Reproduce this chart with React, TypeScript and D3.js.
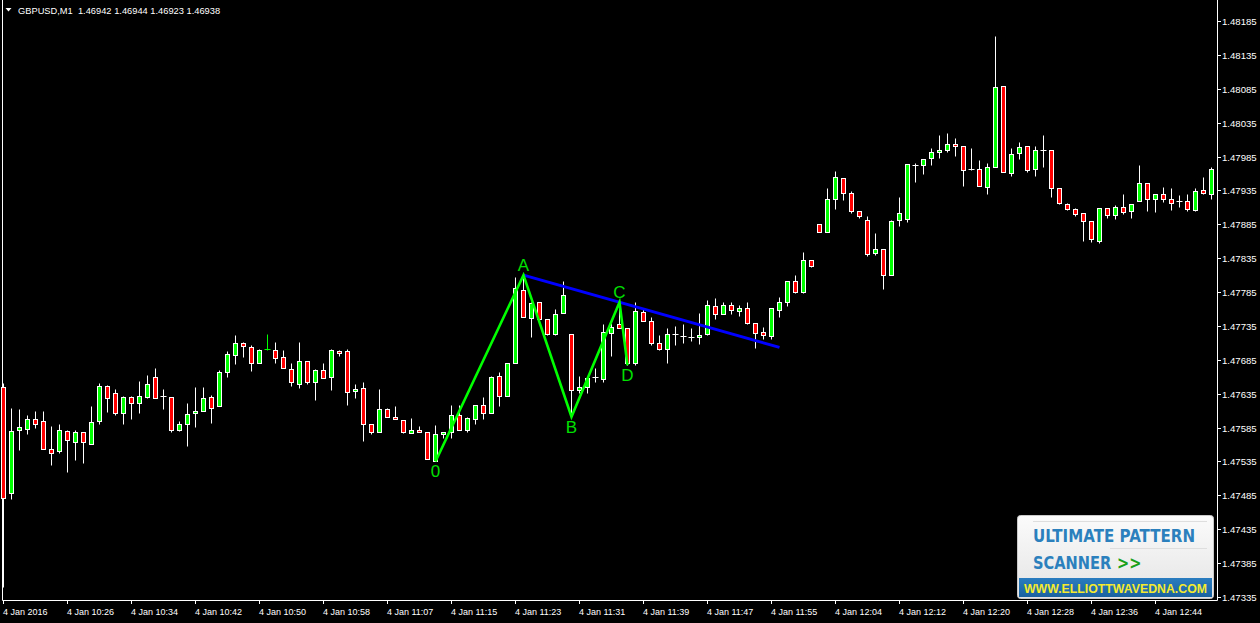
import React from 'react';
import * as d3 from 'd3';

// OHLC per one-minute bar
const opens = [
  1.47645, 1.47489, 1.47582, 1.47583, 1.47597, 1.47594, 1.47553, 1.47550, 1.47580, 1.47564,
  1.47578, 1.47561, 1.47594, 1.47647, 1.47636, 1.47606, 1.47630, 1.47622, 1.47630, 1.47659,
  1.47631, 1.47630, 1.47581, 1.47591, 1.47606, 1.47609, 1.47630, 1.47617, 1.47667, 1.47692,
  1.47710, 1.47704, 1.47681, 1.47701, 1.47699, 1.47689, 1.47671, 1.47650, 1.47683, 1.47652,
  1.47670, 1.47659, 1.47698, 1.47698, 1.47639, 1.47643, 1.47590, 1.47578, 1.47612, 1.47600,
  1.47596, 1.47577, 1.47581, 1.47578, 1.47535, 1.47575, 1.47578, 1.47603, 1.47581, 1.47597,
  1.47618, 1.47606, 1.47661, 1.47631, 1.47681, 1.47788, 1.47746, 1.47770, 1.47745, 1.47723,
  1.47754, 1.47723, 1.47640, 1.47645, 1.47659, 1.47656, 1.47724, 1.47738, 1.47732, 1.47681,
  1.47755, 1.47743, 1.47710, 1.47701, 1.47723, 1.47720, 1.47719, 1.47719, 1.47723, 1.47764,
  1.47752, 1.47766, 1.47757, 1.47761, 1.47740, 1.47726, 1.47720, 1.47758, 1.47770, 1.47801,
  1.47785, 1.47832, 1.47885, 1.47874, 1.47923, 1.47953, 1.47931, 1.47904, 1.47891, 1.47842,
  1.47848, 1.47810, 1.47891, 1.47893, 1.47973, 1.47972, 1.47983, 1.47991, 1.47994, 1.48004,
  1.48000, 1.47967, 1.47966, 1.47940, 1.47969, 1.48089, 1.47960, 1.47990, 1.48000, 1.47966,
  1.47994, 1.47994, 1.47938, 1.47915, 1.47907, 1.47901, 1.47890, 1.47860, 1.47909, 1.47898,
  1.47910, 1.47904, 1.47919, 1.47946, 1.47923, 1.47929, 1.47922, 1.47919, 1.47920, 1.47906,
  1.47936, 1.47929,
];
const highs = [
  1.47651, 1.47614, 1.47613, 1.47603, 1.47609, 1.47609, 1.47587, 1.47591, 1.47582, 1.47582,
  1.47579, 1.47617, 1.47651, 1.47648, 1.47642, 1.47631, 1.47631, 1.47654, 1.47662, 1.47673,
  1.47642, 1.47630, 1.47594, 1.47622, 1.47645, 1.47645, 1.47633, 1.47670, 1.47698, 1.47722,
  1.47712, 1.47707, 1.47701, 1.47723, 1.47712, 1.47699, 1.47681, 1.47712, 1.47684, 1.47671,
  1.47681, 1.47701, 1.47699, 1.47701, 1.47649, 1.47652, 1.47590, 1.47642, 1.47614, 1.47617,
  1.47596, 1.47599, 1.47587, 1.47578, 1.47589, 1.47578, 1.47619, 1.47619, 1.47600, 1.47619,
  1.47630, 1.47661, 1.47667, 1.47681, 1.47807, 1.47810, 1.47770, 1.47770, 1.47745, 1.47760,
  1.47801, 1.47723, 1.47661, 1.47658, 1.47673, 1.47738, 1.47739, 1.47770, 1.47732, 1.47770,
  1.47760, 1.47748, 1.47721, 1.47732, 1.47735, 1.47738, 1.47732, 1.47754, 1.47773, 1.47776,
  1.47770, 1.47770, 1.47766, 1.47770, 1.47740, 1.47733, 1.47761, 1.47777, 1.47801, 1.47810,
  1.47844, 1.47832, 1.47885, 1.47938, 1.47963, 1.47953, 1.47934, 1.47904, 1.47897, 1.47872,
  1.47848, 1.47891, 1.47926, 1.47974, 1.47975, 1.47982, 1.47997, 1.48017, 1.48019, 1.48013,
  1.48000, 1.47997, 1.47980, 1.47975, 1.48163, 1.48089, 1.47997, 1.48006, 1.48000, 1.48001,
  1.48017, 1.47994, 1.47939, 1.47916, 1.47909, 1.47901, 1.47890, 1.47909, 1.47909, 1.47913,
  1.47929, 1.47915, 1.47972, 1.47946, 1.47929, 1.47940, 1.47938, 1.47928, 1.47929, 1.47938,
  1.47955, 1.47969,
];
const lows = [
  1.47350, 1.47480, 1.47552, 1.47576, 1.47585, 1.47553, 1.47530, 1.47548, 1.47520, 1.47537,
  1.47533, 1.47561, 1.47591, 1.47608, 1.47603, 1.47591, 1.47597, 1.47607, 1.47628, 1.47628,
  1.47612, 1.47578, 1.47580, 1.47558, 1.47586, 1.47609, 1.47592, 1.47617, 1.47660, 1.47679,
  1.47689, 1.47669, 1.47681, 1.47700, 1.47680, 1.47673, 1.47647, 1.47644, 1.47649, 1.47625,
  1.47658, 1.47640, 1.47690, 1.47619, 1.47628, 1.47565, 1.47575, 1.47578, 1.47600, 1.47597,
  1.47577, 1.47577, 1.47578, 1.47538, 1.47535, 1.47569, 1.47569, 1.47581, 1.47578, 1.47590,
  1.47597, 1.47606, 1.47617, 1.47631, 1.47681, 1.47748, 1.47719, 1.47745, 1.47721, 1.47721,
  1.47754, 1.47601, 1.47636, 1.47636, 1.47652, 1.47652, 1.47690, 1.47732, 1.47677, 1.47677,
  1.47742, 1.47707, 1.47699, 1.47681, 1.47707, 1.47710, 1.47713, 1.47708, 1.47721, 1.47745,
  1.47752, 1.47752, 1.47749, 1.47738, 1.47702, 1.47715, 1.47715, 1.47748, 1.47764, 1.47783,
  1.47783, 1.47822, 1.47873, 1.47874, 1.47908, 1.47921, 1.47901, 1.47895, 1.47838, 1.47839,
  1.47789, 1.47810, 1.47882, 1.47888, 1.47948, 1.47959, 1.47972, 1.47983, 1.47991, 1.47986,
  1.47941, 1.47965, 1.47941, 1.47929, 1.47969, 1.47962, 1.47957, 1.47982, 1.47962, 1.47957,
  1.47969, 1.47926, 1.47915, 1.47906, 1.47897, 1.47860, 1.47859, 1.47857, 1.47894, 1.47893,
  1.47900, 1.47895, 1.47919, 1.47904, 1.47903, 1.47918, 1.47906, 1.47910, 1.47904, 1.47904,
  1.47930, 1.47922,
];
const closes = [
  1.47481, 1.47580, 1.47586, 1.47597, 1.47591, 1.47553, 1.47547, 1.47581, 1.47566, 1.47578,
  1.47563, 1.47593, 1.47647, 1.47628, 1.47606, 1.47630, 1.47622, 1.47631, 1.47650, 1.47628,
  1.47631, 1.47581, 1.47591, 1.47605, 1.47609, 1.47628, 1.47614, 1.47667, 1.47693, 1.47710,
  1.47705, 1.47680, 1.47699, 1.47701, 1.47687, 1.47673, 1.47653, 1.47683, 1.47652, 1.47670,
  1.47658, 1.47699, 1.47695, 1.47637, 1.47642, 1.47591, 1.47578, 1.47612, 1.47600, 1.47597,
  1.47578, 1.47581, 1.47578, 1.47538, 1.47575, 1.47578, 1.47603, 1.47581, 1.47599, 1.47618,
  1.47606, 1.47659, 1.47631, 1.47681, 1.47791, 1.47748, 1.47769, 1.47745, 1.47723, 1.47752,
  1.47780, 1.47640, 1.47645, 1.47658, 1.47659, 1.47726, 1.47733, 1.47732, 1.47681, 1.47757,
  1.47742, 1.47710, 1.47701, 1.47723, 1.47723, 1.47720, 1.47719, 1.47721, 1.47766, 1.47752,
  1.47766, 1.47758, 1.47761, 1.47740, 1.47724, 1.47721, 1.47761, 1.47770, 1.47801, 1.47785,
  1.47832, 1.47824, 1.47874, 1.47922, 1.47955, 1.47931, 1.47904, 1.47897, 1.47841, 1.47848,
  1.47810, 1.47890, 1.47901, 1.47974, 1.47973, 1.47981, 1.47991, 1.47994, 1.48003, 1.48000,
  1.47965, 1.47967, 1.47941, 1.47969, 1.48087, 1.47962, 1.47988, 1.47999, 1.47965, 1.47994,
  1.47994, 1.47938, 1.47916, 1.47907, 1.47900, 1.47890, 1.47863, 1.47909, 1.47898, 1.47910,
  1.47903, 1.47915, 1.47946, 1.47923, 1.47929, 1.47923, 1.47916, 1.47919, 1.47907, 1.47934,
  1.47931, 1.47966,
];
// doji bars painted in the bull colour
const greenDoji = [33];

const priceTicks = [
  '1.47335', '1.47385', '1.47435', '1.47485', '1.47535', '1.47585', '1.47635', '1.47685', '1.47735',
  '1.47785', '1.47835', '1.47885', '1.47935', '1.47985', '1.48035', '1.48085', '1.48135', '1.48185',
];
const timeLabels = [
  '4 Jan 2016', '4 Jan 10:26', '4 Jan 10:34', '4 Jan 10:42', '4 Jan 10:50', '4 Jan 10:58',
  '4 Jan 11:07', '4 Jan 11:15', '4 Jan 11:23', '4 Jan 11:31', '4 Jan 11:39', '4 Jan 11:47',
  '4 Jan 11:55', '4 Jan 12:04', '4 Jan 12:12', '4 Jan 12:20', '4 Jan 12:28', '4 Jan 12:36', '4 Jan 12:44',
];
const timeLabelEvery = 8;

// pattern 0-A-B-C-D: bar index and which extreme it sits on
const patternLabels = ['0', 'A', 'B', 'C', 'D'];
const patternBars = [54, 65, 71, 77, 78];
const patternSides = ['low', 'high', 'low', 'high', 'low'];
// trend line through A and C, extended to this bar
const trendEndBar = 97;

const W = 1260;
const H = 623;
const FONT = '"Liberation Sans", Arial, sans-serif';
const LOGO_FONT = '"DejaVu Sans", Verdana, sans-serif';

const App: React.FC = () => {
  const n = opens.length;
  const x = d3.scaleLinear().domain([0, n - 1]).range([3.5, 3.5 + 8 * (n - 1)]);
  const y = d3.scaleLinear().domain([1.47335, 1.48185]).range([597, 21]);
  const py = (v: number) => Math.round(y(v)) + 0.5;

  const pts = patternBars.map((b, k) => ({
    label: patternLabels[k],
    side: patternSides[k],
    px: x(b),
    py: y(patternSides[k] === 'high' ? highs[b] : lows[b]),
  }));
  const zig = d3.line<{ px: number; py: number }>().x((d) => d.px).y((d) => d.py);

  const aBar = patternBars[1];
  const cBar = patternBars[3];
  const aPrice = highs[aBar];
  const cPrice = highs[cBar];
  const trendEndPrice = aPrice + ((cPrice - aPrice) / (cBar - aBar)) * (trendEndBar - aBar);

  return (
    <svg
      width={W}
      height={H}
      style={{ position: 'fixed', left: 0, top: 0, background: '#000', display: 'block' }}
    >
      <rect width={W} height={H} fill="#000" />

      {/* frame */}
      <line x1={2.5} x2={2.5} y1={0} y2={600.5} stroke="#fff" />
      <line x1={1217.5} x2={1217.5} y1={0} y2={600.5} stroke="#fff" />
      <line x1={2.5} x2={1217.5} y1={600.5} y2={600.5} stroke="#fff" />

      {/* candles */}
      {opens.map((o, i) => {
        const c = closes[i];
        const cx = x(i);
        const hi = py(highs[i]);
        const lo = py(lows[i]);
        const top = py(Math.max(o, c));
        const bot = py(Math.min(o, c));
        const doji = top === bot || o === c;
        const green = greenDoji.includes(i);
        return (
          <g key={i}>
            <line x1={cx} x2={cx} y1={hi} y2={lo} stroke={green ? '#00ff00' : '#fff'} />
            {doji ? (
              <line x1={cx - 3} x2={cx + 3} y1={top} y2={top} stroke={green ? '#00ff00' : '#fff'} />
            ) : (
              <rect
                x={cx - 2}
                y={top}
                width={4}
                height={bot - top}
                fill={c > o ? '#00ff00' : '#ff0000'}
                stroke="#fff"
                strokeWidth={1}
              />
            )}
          </g>
        );
      })}

      {/* trend line A-C */}
      <line
        x1={x(aBar)}
        y1={y(aPrice)}
        x2={x(trendEndBar)}
        y2={y(trendEndPrice)}
        stroke="#0000ff"
        strokeWidth={3}
      />

      {/* 0-A-B-C-D pattern */}
      <path d={zig(pts) || ''} fill="none" stroke="#00ff00" strokeWidth={2.6} strokeLinejoin="miter" />
      {pts.map((p) => (
        <text
          key={p.label}
          x={p.px}
          y={p.side === 'high' ? p.py - 4 : p.py + 16}
          fill="#00e000"
          fontFamily={FONT}
          fontSize={17}
          textAnchor="middle"
        >
          {p.label}
        </text>
      ))}

      {/* price axis */}
      {priceTicks.map((t) => {
        const ty = py(+t);
        return (
          <g key={t}>
            <line x1={1217.5} x2={1221} y1={ty} y2={ty} stroke="#fff" />
            <text x={1222} y={ty} dy="0.35em" fill="#fff" fontFamily={FONT} fontSize={9.6}>
              {t}
            </text>
          </g>
        );
      })}

      {/* time axis */}
      {timeLabels.map((t, k) => {
        const tx = x(k * timeLabelEvery);
        return (
          <g key={t}>
            <line x1={tx} x2={tx} y1={600.5} y2={604} stroke="#fff" />
            <text x={tx - 0.5} y={614.5} fill="#fff" fontFamily={FONT} fontSize={9}>
              {t}
            </text>
          </g>
        );
      })}

      {/* header */}
      <path d="M5.5,8 L11.5,8 L8.5,11.5 Z" fill="#fff" />
      <text x={18} y={13.5} fill="#fff" fontFamily={FONT} fontSize={9.3}>
        GBPUSD,M1{'\u00a0\u00a0'}1.46942 1.46944 1.46923 1.46938
      </text>

      {/* logo */}
      <defs>
        <linearGradient id="logoBg" x1="0" y1="0" x2="0" y2="1">
          <stop offset="0%" stopColor="#fbfbfb" />
          <stop offset="100%" stopColor="#e4e4e4" />
        </linearGradient>
        <linearGradient id="logoBand" x1="0" y1="0" x2="0" y2="1">
          <stop offset="0%" stopColor="#2a7cbf" />
          <stop offset="100%" stopColor="#1a62a0" />
        </linearGradient>
      </defs>
      <rect x={1017.5} y={515.5} width={196} height={83} rx={3} fill="url(#logoBg)" stroke="#c9c9c9" />
      <line x1={1033} x2={1207} y1={521.5} y2={521.5} stroke="#dedede" />
      <line x1={1110} x2={1207} y1={548.5} y2={548.5} stroke="#dedede" />
      <text
        x={1033}
        y={542}
        fill="#2b80bd"
        fontFamily={LOGO_FONT}
        fontWeight="bold"
        fontSize={17}
        textLength={162}
        lengthAdjust="spacingAndGlyphs"
      >
        ULTIMATE PATTERN
      </text>
      <g transform="translate(1033,569) scale(0.86,1)">
        <text x={0} y={0} fill="#2b80bd" fontFamily={LOGO_FONT} fontWeight="bold" fontSize={17}>
          SCANNER
        </text>
      </g>
      <g transform="translate(1117,569) scale(0.86,1)">
        <text x={0} y={0} fill="#1aa11a" fontFamily={LOGO_FONT} fontWeight="bold" fontSize={17}>
          {'>>'}
        </text>
      </g>
      <rect x={1019} y={578} width={193} height={19} fill="url(#logoBand)" />
      <text
        x={1024}
        y={593}
        fill="#f4ea2e"
        fontFamily={FONT}
        fontWeight="bold"
        fontSize={13}
        textLength={183}
        lengthAdjust="spacingAndGlyphs"
      >
        WWW.ELLIOTTWAVEDNA.COM
      </text>
    </svg>
  );
};

export default App;
